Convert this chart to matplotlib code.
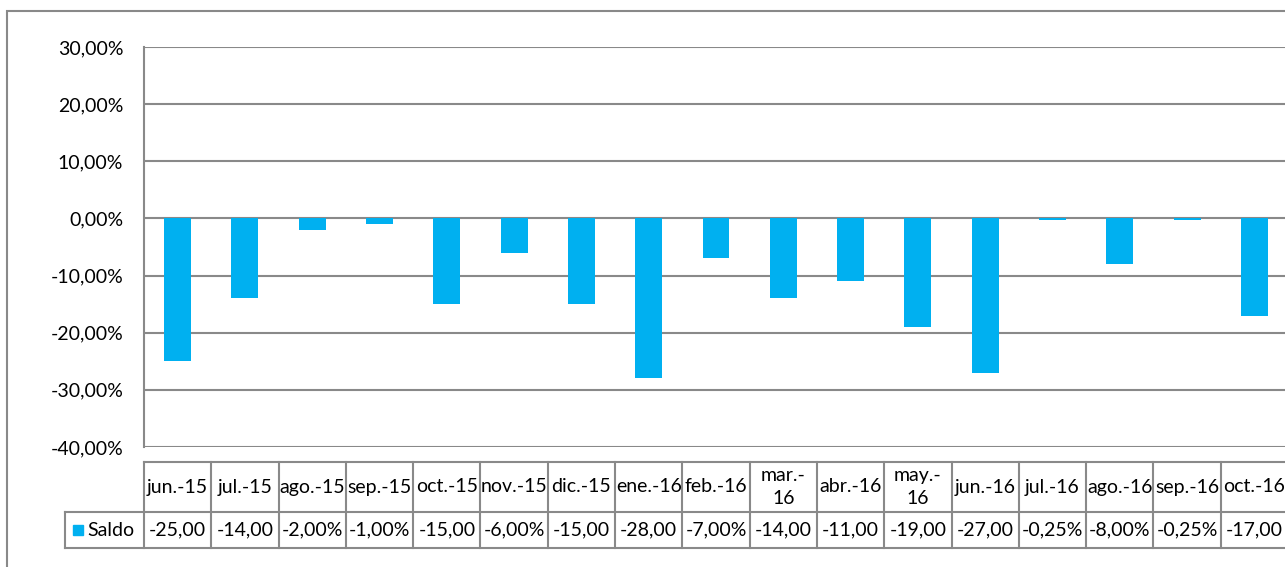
import matplotlib.pyplot as plt
import matplotlib.patches as mpatches
from matplotlib.ticker import FuncFormatter
import matplotlib.transforms as mtransforms

plt.rcParams['font.family'] = ['Lato', 'DejaVu Sans']

months = ['jun.-15', 'jul.-15', 'ago.-15', 'sep.-15', 'oct.-15', 'nov.-15',
          'dic.-15', 'ene.-16', 'feb.-16', 'mar.-\n16', 'abr.-16', 'may.-\n16',
          'jun.-16', 'jul.-16', 'ago.-16', 'sep.-16', 'oct.-16']
saldo = [-25.0, -14.0, -2.0, -1.0, -15.0, -6.0, -15.0, -28.0, -7.0, -14.0,
         -11.0, -19.0, -27.0, -0.25, -8.0, -0.25, -17.0]
series_name = 'Saldo'
y_ticks = [-40, -30, -20, -10, 0, 10, 20, 30]

bar_color = '#00B0F0'
line_color = '#898989'
fs = 14

W, H = 1285, 567
fig = plt.figure(figsize=(W / 100, H / 100), dpi=100)

# plot area in pixel coordinates
left_px, right_px, top_px, bottom_px = 144, 1288, 47, 447
ax = fig.add_axes([left_px / W, 1 - bottom_px / H,
                   (right_px - left_px) / W, (bottom_px - top_px) / H])

# outer chart border
fig.patches.append(mpatches.Rectangle((7 / W, -0.1), 1.2, 1 - 11 / H + 0.1,
                                      transform=fig.transFigure, fill=False,
                                      edgecolor=line_color, linewidth=1.5))

x = list(range(len(months)))
ax.bar(x, saldo, width=0.4, color=bar_color, zorder=3)

ax.set_xlim(-0.5, len(months) - 0.5)
ax.set_ylim(-40, 30)
ax.set_yticks(y_ticks)
ax.yaxis.set_major_formatter(FuncFormatter(lambda v, p: f'{v:.2f}%'.replace('.', ',')))
ax.tick_params(axis='y', length=0, pad=15, labelsize=fs)
ax.set_xticks([])
ax.grid(axis='y', color=line_color, linewidth=1.5, zorder=0)
for s in ['top', 'right', 'bottom']:
    ax.spines[s].set_visible(False)
ax.spines['left'].set_color(line_color)
ax.spines['left'].set_linewidth(1.5)

# data table under the axis: x in data units, y in axes units
tr = mtransforms.blended_transform_factory(ax.transData, ax.transAxes)
plot_h = bottom_px - top_px
y_top = (bottom_px - 462) / plot_h
y_mid = (bottom_px - 512) / plot_h
y_bot = (bottom_px - 548) / plot_h
cat_w = (right_px - left_px) / len(months)
x_leg = -0.5 - (left_px - 65) / cat_w
n = len(months)

def hline(x0, x1, y):
    ax.plot([x0, x1], [y, y], color=line_color, lw=1.5, transform=tr, clip_on=False)

def vline(xx, y0, y1):
    ax.plot([xx, xx], [y0, y1], color=line_color, lw=1.5, transform=tr, clip_on=False)

hline(-0.5, n + 1, y_top)
hline(x_leg, n + 1, y_mid)
hline(x_leg, n + 1, y_bot)
vline(x_leg, y_mid, y_bot)
for i in range(n + 1):
    vline(i - 0.5, y_top, y_bot)

for i, (m, v) in enumerate(zip(months, saldo)):
    ax.text(i, (y_top + y_mid) / 2, m, transform=tr, ha='center', va='center',
            fontsize=fs, linespacing=1.45, clip_on=False)
    # cell is narrower than the full label, so the tail gets cut off
    label = f'{v:.2f}%'.replace('.', ',')[:6]
    ax.text(i, (y_mid + y_bot) / 2, label, transform=tr, ha='center', va='center',
            fontsize=fs, clip_on=False)

# legend key in the first column
key_x = x_leg + 8 / cat_w
ax.add_patch(mpatches.Rectangle((key_x, (y_mid + y_bot) / 2 - 5 / plot_h),
                                10 / cat_w, 10 / plot_h,
                                transform=tr, color=bar_color, clip_on=False))
ax.text(key_x + 14 / cat_w, (y_mid + y_bot) / 2, series_name, transform=tr,
        ha='left', va='center', fontsize=fs, clip_on=False)

fig.savefig('out.png', dpi=100, facecolor='white')
